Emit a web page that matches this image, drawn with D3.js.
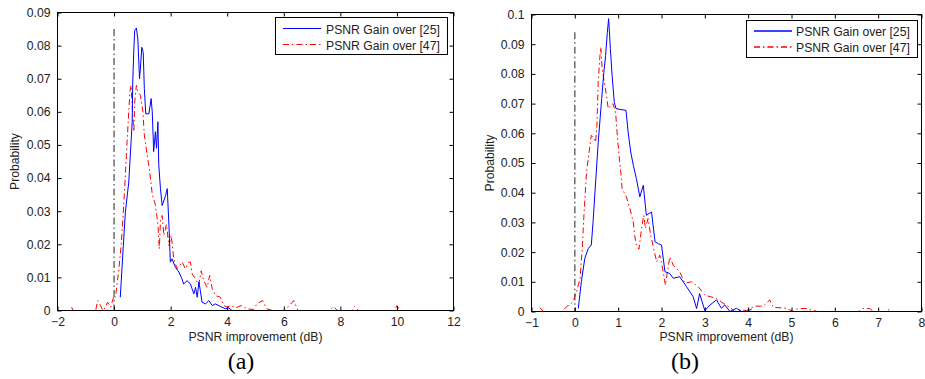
<!DOCTYPE html>
<html>
<head>
<meta charset="utf-8">
<script src="https://cdn.jsdelivr.net/npm/d3@7"></script>
<style>
  body { margin: 0; background: #fff; }
  svg { display: block; }
  text { font-family: Arial, "Liberation Sans", sans-serif; fill: #222; }
</style>
</head>
<body>
<svg id="chart" width="925" height="379"></svg>
<script>
// (a) PSNR gain distributions, [x dB, probability]
const leftGain25 = [
  [0.22, 0.004], [0.32, 0.0186], [0.40, 0.0297], [0.52, 0.0388], [0.60, 0.0508], [0.64, 0.0569],
  [0.66, 0.069], [0.70, 0.079], [0.73, 0.0846], [0.79, 0.0853], [0.84, 0.082], [0.90, 0.070],
  [0.93, 0.073], [0.98, 0.0795], [1.03, 0.078], [1.07, 0.067], [1.12, 0.0594], [1.23, 0.0594],
  [1.31, 0.064], [1.35, 0.060], [1.40, 0.048], [1.46, 0.054], [1.50, 0.049], [1.55, 0.057],
  [1.58, 0.044], [1.64, 0.0368], [1.70, 0.0317], [1.82, 0.0347], [1.88, 0.0368], [1.94, 0.0257],
  [1.99, 0.0146], [2.05, 0.0156], [2.17, 0.0130], [2.29, 0.0116], [2.40, 0.0096], [2.46, 0.0080],
  [2.58, 0.0090], [2.70, 0.0080], [2.82, 0.0050], [2.88, 0.0070], [2.94, 0.0040], [3.00, 0.0086],
  [3.05, 0.0060], [3.11, 0.0025], [3.23, 0.0020], [3.35, 0.0030], [3.47, 0.0015], [3.58, 0.0020],
  [3.76, 0.0012], [3.94, 0.0005], [4.05, 0.0008], [4.17, 0], [5.8, 0]
];
const leftGain47 = [
  [-1.5, 0.001], [-1.45, 0], [-0.65, 0], [-0.58, 0.003], [-0.48, 0.0015], [-0.4, 0], [-0.3, 0.001],
  [-0.23, 0.0025], [-0.12, 0.001], [-0.06, 0.0028], [0.0, 0.0045], [0.05, 0.004], [0.17, 0.0126],
  [0.25, 0.0196], [0.32, 0.0287], [0.40, 0.041], [0.46, 0.051], [0.56, 0.066], [0.60, 0.068],
  [0.66, 0.0589], [0.70, 0.054], [0.73, 0.063], [0.79, 0.068], [0.85, 0.066], [0.93, 0.065],
  [1.02, 0.060], [1.07, 0.053], [1.17, 0.047], [1.26, 0.042], [1.35, 0.035], [1.46, 0.032],
  [1.55, 0.026], [1.60, 0.0186], [1.64, 0.027], [1.70, 0.0287], [1.76, 0.0227], [1.85, 0.026],
  [1.94, 0.0196], [2.02, 0.0227], [2.11, 0.0156], [2.23, 0.0126], [2.41, 0.0146], [2.52, 0.0126],
  [2.64, 0.0146], [2.70, 0.0146], [2.76, 0.011], [2.88, 0.0096], [2.99, 0.0076], [3.08, 0.012],
  [3.17, 0.009], [3.29, 0.007], [3.38, 0.0106], [3.47, 0.0066], [3.58, 0.0045], [3.76, 0.004],
  [3.88, 0.0015], [4.0, 0.001], [4.12, 0.0015], [4.3, 0.0008], [4.5, 0.0015], [4.7, 0.0005],
  [4.93, 0.0003], [5.05, 0.002], [5.25, 0.003], [5.4, 0.0005], [5.6, 0], [6.0, 0], [6.2, 0.0015],
  [6.35, 0.003], [6.5, 0], [7.6, 0], [7.75, 0.0012], [7.9, 0], [8.4, 0], [8.5, 0.0012], [8.65, 0],
  [9.9, 0], [10.0, 0.0015], [10.1, 0], [10.83, 0]
];

// (b)
const rightGain25 = [
  [0.08, 0.001], [0.15, 0.010], [0.23, 0.0179], [0.31, 0.0212], [0.38, 0.0224], [0.42, 0.030],
  [0.48, 0.0436], [0.54, 0.057], [0.62, 0.0717], [0.67, 0.0806], [0.71, 0.0862], [0.75, 0.094],
  [0.78, 0.0986], [0.82, 0.0885], [0.86, 0.0795], [0.91, 0.0705], [0.95, 0.0683], [1.18, 0.0677],
  [1.23, 0.0604], [1.29, 0.0537], [1.35, 0.0492], [1.42, 0.0448], [1.50, 0.0386], [1.58, 0.0425],
  [1.65, 0.0324], [1.77, 0.0335], [1.85, 0.0235], [1.93, 0.0228], [2.0, 0.0224], [2.08, 0.0134],
  [2.19, 0.0128], [2.27, 0.0112], [2.42, 0.0117], [2.58, 0.0083], [2.73, 0.005], [2.81, 0.001],
  [2.88, 0.006], [3.0, 0.0003], [3.12, 0.0022], [3.27, 0.0039], [3.38, 0.0011], [3.46, 0.0022],
  [3.58, 0], [3.73, 0.0011], [3.85, 0], [3.96, 0], [4.08, 0.0008]
];
const rightGain47 = [
  [-0.81, 0.0013], [-0.72, 0], [-0.3, 0], [-0.19, 0.0016], [-0.1, 0.0025], [-0.04, 0.0033],
  [0.0, 0.005], [0.04, 0.0067], [0.12, 0.011], [0.17, 0.021], [0.21, 0.0324], [0.27, 0.047],
  [0.32, 0.0526], [0.38, 0.0593], [0.45, 0.0582], [0.48, 0.057], [0.51, 0.0627], [0.54, 0.0772],
  [0.58, 0.0862], [0.60, 0.089], [0.63, 0.0817], [0.68, 0.0772], [0.73, 0.0728], [0.77, 0.0683],
  [0.83, 0.0694], [0.88, 0.070], [0.94, 0.0672], [0.98, 0.0593], [1.02, 0.0526], [1.06, 0.047],
  [1.09, 0.0414], [1.19, 0.0386], [1.27, 0.0347], [1.35, 0.030], [1.38, 0.0257], [1.42, 0.0224],
  [1.48, 0.021], [1.54, 0.028], [1.59, 0.0324], [1.63, 0.028], [1.69, 0.0313], [1.75, 0.0257],
  [1.81, 0.0218], [1.89, 0.0167], [1.96, 0.019], [2.04, 0.0134], [2.09, 0.0089], [2.15, 0.0145],
  [2.19, 0.0184], [2.27, 0.0156], [2.42, 0.0134], [2.54, 0.0095], [2.69, 0.010], [2.85, 0.0083],
  [3.0, 0.0055], [3.12, 0.005], [3.27, 0.0044], [3.42, 0.0028], [3.58, 0.0014], [3.69, 0],
  [3.81, 0.0005], [3.96, 0.0003], [4.15, 0.0018], [4.35, 0.0018], [4.5, 0.0039], [4.58, 0.0014],
  [4.88, 0.0011], [5.04, 0], [5.15, 0.001], [5.35, 0.001], [5.46, 0.0005], [5.6, 0], [6.55, 0],
  [6.65, 0.001], [6.8, 0.001], [6.9, 0], [7.2, 0], [7.27, 0.001]
];

const seriesNames = ['PSNR Gain over [25]', 'PSNR Gain over [47]'];
const leftXTicks = [-2, 0, 2, 4, 6, 8, 10, 12];
const leftYTicks = [0, 0.01, 0.02, 0.03, 0.04, 0.05, 0.06, 0.07, 0.08, 0.09];
const rightXTicks = [-1, 0, 1, 2, 3, 4, 5, 6, 7, 8];
const rightYTicks = [0, 0.01, 0.02, 0.03, 0.04, 0.05, 0.06, 0.07, 0.08, 0.09, 0.1];

const svg = d3.select('#chart');
const FONT = '12.2px';

const panels = [
  {
    box: { x0: 57.5, x1: 453.5, y0: 12.5, y1: 310.5 },
    xDomain: [-2, 12], yDomain: [0, 0.09],
    xTicks: leftXTicks, yTicks: leftYTicks,
    zeroTop: 0.085,
    series: [leftGain25, leftGain47],
    legend: { x0: 275.5, x1: 447.5, y0: 17.5, y1: 54.5, lx0: 283, lx1: 321, tx: 326, rows: [28.5, 44.5], lw: 1 },
    ylabelX: 15, captionX: 241, caption: '(a)'
  },
  {
    box: { x0: 531.5, x1: 921.5, y0: 14.5, y1: 311.5 },
    xDomain: [-1, 8], yDomain: [0, 0.1],
    xTicks: rightXTicks, yTicks: rightYTicks,
    zeroTop: 0.094,
    series: [rightGain25, rightGain47],
    legend: { x0: 746.5, x1: 917.5, y0: 20.5, y1: 57.5, lx0: 754, lx1: 792, tx: 796, rows: [31, 47], lw: 1.6 },
    ylabelX: 490, captionX: 685, caption: '(b)'
  }
];

const styles = [
  { color: '#0000ff', dash: 'none' },
  { color: '#ff0000', dash: '6,3,1.5,3' }
];

panels.forEach(drawPanel);

function drawPanel(p) {
  const b = p.box;
  const x = d3.scaleLinear().domain(p.xDomain).range([b.x0, b.x1]);
  const y = d3.scaleLinear().domain(p.yDomain).range([b.y1, b.y0]);
  const g = svg.append('g');

  // vertical reference at 0 dB
  g.append('line')
    .attr('x1', x(0)).attr('x2', x(0))
    .attr('y1', y(p.zeroTop)).attr('y2', y(0))
    .style('stroke', '#555')
    .style('stroke-width', 1.3)
    .style('stroke-dasharray', '7,3,1.5,3');

  const line = d3.line()
    .x((d) => x(d[0]))
    .y((d) => y(d[1]));

  // red first, blue on top
  [1, 0].forEach((i) => {
    g.append('path')
      .datum(p.series[i])
      .attr('d', line)
      .style('fill', 'none')
      .style('stroke', styles[i].color)
      .style('stroke-width', 1)
      .style('stroke-dasharray', styles[i].dash);
  });

  // axes, ticks pointing inward on all four sides
  const tickLen = 4;
  const xb = d3.axisBottom(x).tickValues(p.xTicks).tickSize(-tickLen).tickPadding(7)
    .tickFormat(d3.format('d'));
  const xt = d3.axisTop(x).tickValues(p.xTicks).tickSize(-tickLen).tickFormat('');
  const yl = d3.axisLeft(y).tickValues(p.yTicks).tickSize(-tickLen).tickPadding(7)
    .tickFormat((d) => (d === 0 ? '0' : String(+d.toFixed(2))));
  const yr = d3.axisRight(y).tickValues(p.yTicks).tickSize(-tickLen).tickFormat('');

  const axes = [
    g.append('g').attr('transform', `translate(0,${b.y1})`).call(xb),
    g.append('g').attr('transform', `translate(0,${b.y0})`).call(xt),
    g.append('g').attr('transform', `translate(${b.x0},0)`).call(yl),
    g.append('g').attr('transform', `translate(${b.x1},0)`).call(yr)
  ];
  axes.forEach((a) => {
    a.select('.domain').remove();
    a.selectAll('line').attr('stroke', '#000');
    a.selectAll('text')
      .style('font-family', 'Arial, "Liberation Sans", sans-serif')
      .style('font-size', FONT)
      .attr('fill', '#222');
  });

  g.append('rect')
    .attr('x', b.x0).attr('y', b.y0)
    .attr('width', b.x1 - b.x0).attr('height', b.y1 - b.y0)
    .style('fill', 'none')
    .style('stroke', '#000');

  // legend
  const L = p.legend;
  g.append('rect')
    .attr('x', L.x0).attr('y', L.y0)
    .attr('width', L.x1 - L.x0).attr('height', L.y1 - L.y0)
    .style('fill', '#fff')
    .style('stroke', '#000');
  seriesNames.forEach((name, i) => {
    g.append('line')
      .attr('x1', L.lx0).attr('x2', L.lx1)
      .attr('y1', L.rows[i]).attr('y2', L.rows[i])
      .style('stroke', styles[i].color)
      .style('stroke-width', L.lw)
      .style('stroke-dasharray', styles[i].dash);
    g.append('text')
      .attr('x', L.tx).attr('y', Math.round(L.rows[i]) + 4.5)
      .style('font-size', FONT)
      .text(name);
  });

  // labels
  g.append('text')
    .attr('x', (b.x0 + b.x1) / 2).attr('y', 341)
    .attr('text-anchor', 'middle')
    .style('font-size', FONT)
    .text('PSNR improvement (dB)');

  g.append('text')
    .attr('transform', `translate(${p.ylabelX + 4},${(b.y0 + b.y1) / 2}) rotate(-90)`)
    .attr('text-anchor', 'middle')
    .style('font-size', FONT)
    .text('Probability');

  g.append('text')
    .attr('x', p.captionX).attr('y', 369)
    .attr('text-anchor', 'middle')
    .style('font-family', '"Liberation Serif", "Times New Roman", serif')
    .style('font-size', '24px')
    .style('fill', '#000')
    .text(p.caption);
}
</script>
</body>
</html>
